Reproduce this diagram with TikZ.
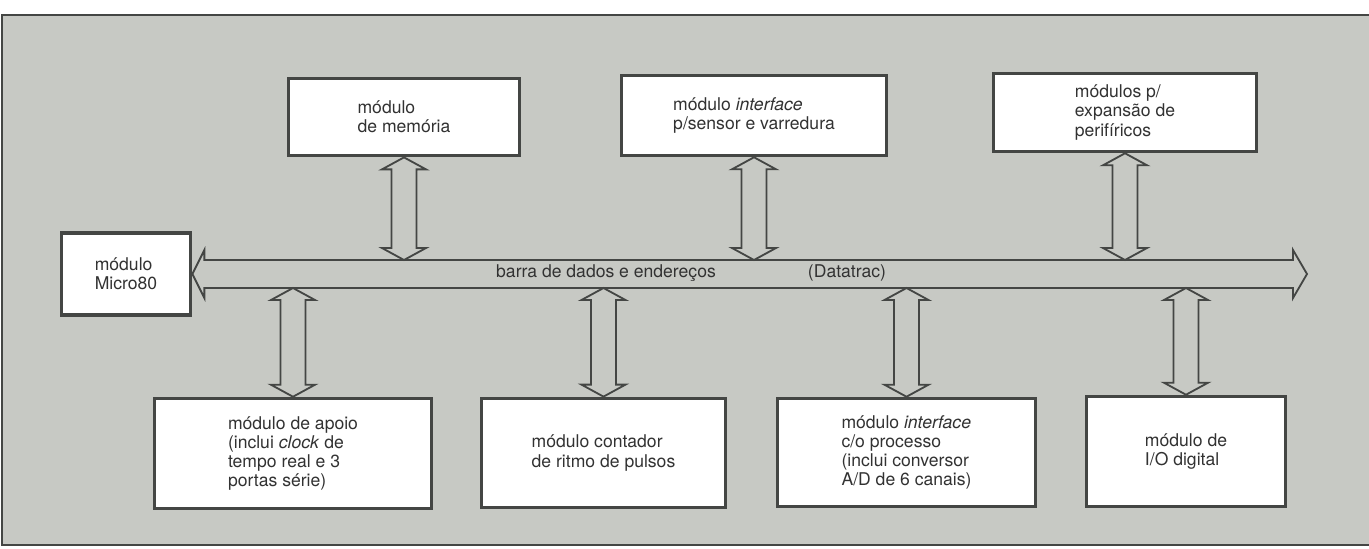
\documentclass[tikz,border=0pt]{standalone}
\usepackage{fontspec}
\setmainfont{TeX Gyre Heros}
\usetikzlibrary{calc}

\definecolor{bggray}{RGB}{199,201,196}
\definecolor{inkgray}{RGB}{68,70,68}
\definecolor{txtgray}{RGB}{50,50,50}

\tikzset{
  module/.style={draw=inkgray, line width=2.5pt, fill=white, text=txtgray,
    align=left, inner sep=0pt, font=\fontsize{12.5}{13.6}\selectfont},
  link/.style={draw=inkgray, line width=1.3pt, line join=miter},
}

% double block arrow from #1 (upper end) to #2 (lower end)
\newcommand{\vlink}[2]{%
  \draw[link] (#1) -- ++(22,12) -- ++(-9.5,0) -- ($(#2)+(12.5,-12)$) -- ++(9.5,0)
    -- (#2) -- ++(-22,-12) -- ++(9.5,0) -- ($(#1)+(-12.5,12)$) -- ++(-9.5,0) -- cycle;}

\begin{document}
\begin{tikzpicture}[x=0.025cm, y=-0.025cm]

\useasboundingbox (0,0) rectangle (1369,548);

% Frame
\fill[bggray] (2,15) rectangle (1369,545);
\draw[inkgray, line width=1.2pt] (1369,15) -- (2,15) -- (2,545) -- (1369,545);

% Upper modules
\node[module, minimum width=5.78cm, minimum height=1.93cm] (mem) at (404,117) {módulo\\de memória};
\node[module, minimum width=6.63cm, minimum height=2.0cm] (iface) at (754,115.5) {módulo \textit{interface}\\p/sensor e varredura};
\node[module, minimum width=6.58cm, minimum height=1.95cm] (expan) at (1125,112.5) {módulos p/\\expansão de\\perifíricos};

% Processor
\node[module, minimum width=3.23cm, minimum height=2.05cm] (micro) at (126,274) {módulo\\Micro80};

% Lower modules
\node[module, minimum width=6.93cm, minimum height=2.75cm] (apoio) at (293,453.5) {módulo de apoio\\(inclui \textit{clock} de\\tempo real e 3\\portas série)};
\node[module, minimum width=6.1cm, minimum height=2.73cm] (cont) at (603.5,453) {módulo contador\\de ritmo de pulsos};
\node[module, minimum width=6.45cm, minimum height=2.7cm] (proc) at (906.5,452.5) {módulo \textit{interface}\\c/o processo\\(inclui conversor\\A/D de 6 canais)};
\node[module, minimum width=4.98cm, minimum height=2.75cm] (io) at (1186,451.5) {módulo de\\I/O digital};

% Bus
\coordinate (busend) at (1307,274);
\coordinate (bustop) at (0,260);
\coordinate (busbot) at (0,288);
\draw[link] (micro.east) -- ++(12,-24) -- ++(0,10) -- ($(busend)+(-14,-14)$) -- ++(0,-10)
  -- (busend) -- ++(-14,24) -- ++(0,-10) -- ($(micro.east)+(12,14)$) -- ++(0,10) -- cycle;
\node[text=txtgray, font=\fontsize{12.5}{13.6}\selectfont] (buslabel) at (606,273) {barra de dados e endereços};
\node[text=txtgray, font=\fontsize{12.5}{13.6}\selectfont, anchor=west] (busname) at (803,273) {(Datatrac)};

% Links to the bus
\vlink{mem.south}{mem.south |- bustop}
\vlink{iface.south}{iface.south |- bustop}
\vlink{expan.south}{expan.south |- bustop}
\vlink{apoio.north |- busbot}{apoio.north}
\vlink{cont.north |- busbot}{cont.north}
\vlink{proc.north |- busbot}{proc.north}
\vlink{io.north |- busbot}{io.north}

\end{tikzpicture}
\end{document}
